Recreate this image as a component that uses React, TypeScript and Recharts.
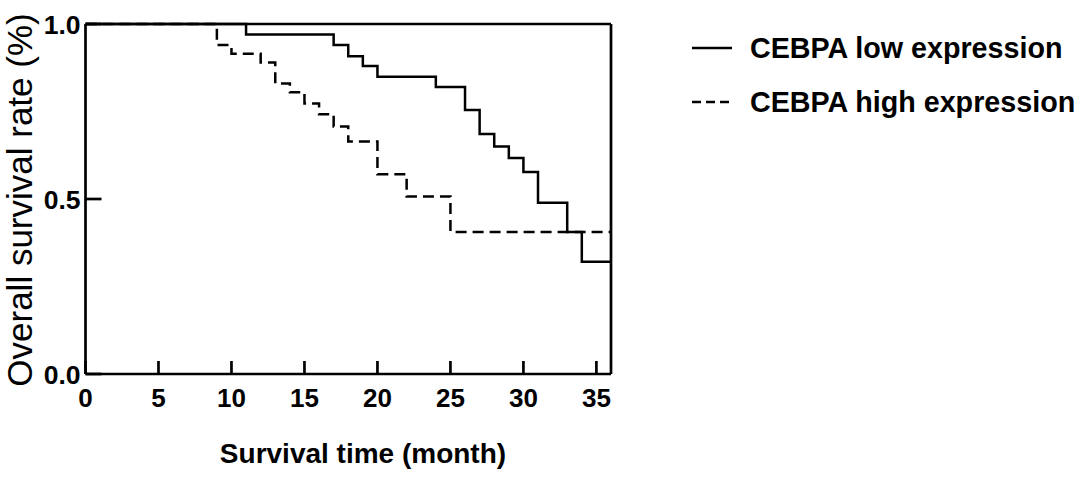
import { LineChart, Line, XAxis, YAxis, Legend, ReferenceLine, Label } from "recharts";

// Kaplan-Meier step points
const lowTimes = [0, 11, 17, 18, 19, 20, 24, 26, 27, 28, 29, 30, 31, 33, 34, 36];
const lowSurvival = [1, 0.97, 0.94, 0.908, 0.88, 0.849, 0.82, 0.754, 0.686, 0.65, 0.617, 0.577, 0.489, 0.406, 0.321, 0.321];
const highTimes = [0, 9, 10, 12, 13, 14, 15, 16, 17, 18, 20, 22, 25, 36];
const highSurvival = [1, 0.94, 0.915, 0.89, 0.83, 0.805, 0.773, 0.742, 0.707, 0.664, 0.571, 0.507, 0.406, 0.406];

const seriesNames = ["CEBPA low expression", "CEBPA high expression"];
const xTicks = [0, 5, 10, 15, 20, 25, 30, 35];
const yTicks = [0, 0.5, 1];

const lowData = lowTimes.map((t, i) => ({ t, s: lowSurvival[i] }));
const highData = highTimes.map((t, i) => ({ t, s: highSurvival[i] }));

const FONT = "Liberation Sans, Arial, sans-serif";
const AXIS_W = 2.7;
const LEGEND_W = 392;

function XTick({ x, y, payload }: any) {
  return (
    <g>
      <line x1={x} y1={y} x2={x} y2={y - 13} stroke="#000" strokeWidth={AXIS_W} />
      <text x={x} y={y + 33} textAnchor="middle" fontFamily={FONT} fontWeight="bold" fontSize={26} fill="#000">
        {payload.value}
      </text>
    </g>
  );
}

function YTick({ x, y, payload }: any) {
  return (
    <g>
      <line x1={x} y1={y} x2={x + 16} y2={y} stroke="#000" strokeWidth={AXIS_W} />
      <text x={x - 5} y={y + 10} textAnchor="end" fontFamily={FONT} fontWeight="bold" fontSize={26.5} fill="#000">
        {Number(payload.value).toFixed(1)}
      </text>
    </g>
  );
}

function LegendBox() {
  return (
    <div style={{ fontFamily: FONT, fontWeight: "bold", fontSize: 28.7, color: "#000", width: LEGEND_W }}>
      {seriesNames.map((name, i) => (
        <div key={name} style={{ display: "flex", alignItems: "center", height: 54, whiteSpace: "nowrap" }}>
          <svg width={40} height={10} style={{ marginRight: 18, flexShrink: 0 }}>
            <line x1={0} y1={5} x2={40} y2={5} stroke="#000" strokeWidth={2.5} strokeDasharray={i === 1 ? "9 5" : undefined} />
          </svg>
          <span>{name}</span>
        </div>
      ))}
    </div>
  );
}

export default function App() {
  return (
    <div style={{ position: "relative", width: 1084, height: 482, background: "#fff" }}>
      <style>{"body{margin:0}"}</style>
      <LineChart width={1084} height={482} margin={{ top: 24, right: 473 - LEGEND_W, bottom: 78, left: 55.5 }}>
        <XAxis
          dataKey="t"
          type="number"
          domain={[0, 36]}
          ticks={xTicks}
          allowDataOverflow
          tickSize={0}
          tickMargin={0}
          tickLine={false}
          tick={<XTick />}
          axisLine={{ stroke: "#000", strokeWidth: AXIS_W }}
          height={30}
        >
          <Label
            content={() => (
              <text x={363} y={463} textAnchor="middle" fontFamily={FONT} fontWeight="bold" fontSize={28} fill="#000">
                Survival time (month)
              </text>
            )}
          />
        </XAxis>
        <YAxis
          type="number"
          domain={[0, 1]}
          ticks={yTicks}
          tickSize={0}
          tickMargin={0}
          tickLine={false}
          tick={<YTick />}
          axisLine={{ stroke: "#000", strokeWidth: AXIS_W }}
          width={30}
        >
          <Label
            content={() => (
              <text
                x={32}
                y={200}
                transform="rotate(-90 32 200)"
                textAnchor="middle"
                fontFamily={FONT}
                fontSize={35}
                fill="#000"
              >
                Overall survival rate (%)
              </text>
            )}
          />
        </YAxis>
        <ReferenceLine y={1} stroke="#000" strokeWidth={AXIS_W} ifOverflow="visible" />
        <ReferenceLine x={36} stroke="#000" strokeWidth={AXIS_W} ifOverflow="visible" />
        <Line
          data={lowData}
          dataKey="s"
          name={seriesNames[0]}
          type="stepAfter"
          stroke="#000"
          strokeWidth={2.5}
          dot={false}
          isAnimationActive={false}
        />
        <Line
          data={highData}
          dataKey="s"
          name={seriesNames[1]}
          type="stepAfter"
          stroke="#000"
          strokeWidth={2.5}
          strokeDasharray="11 6"
          dot={false}
          isAnimationActive={false}
        />
        <Legend
          layout="vertical"
          align="right"
          verticalAlign="top"
          content={<LegendBox />}
          wrapperStyle={{ left: 692, top: 21, width: LEGEND_W }}
        />
      </LineChart>
    </div>
  );
}
